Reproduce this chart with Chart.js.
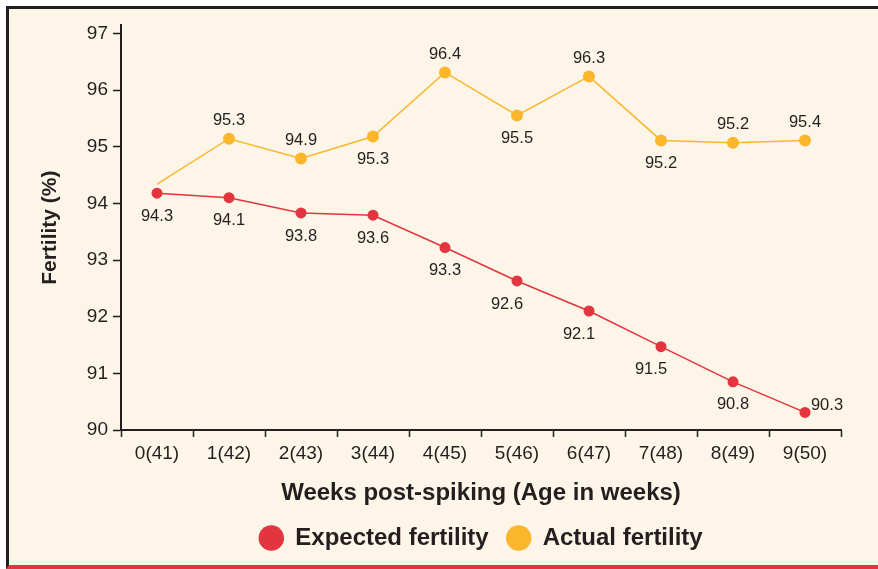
<!DOCTYPE html>
<html>
<head>
<meta charset="utf-8">
<script src="https://cdn.jsdelivr.net/npm/chart.js@4.4.1/dist/chart.umd.min.js"></script>
<style>
  html, body { margin: 0; padding: 0; background: #fff; overflow: hidden; }
  .frame {
    position: absolute; left: 6px; top: 6px; width: 900px; height: 556px;
    background: #fdf5e7;
    border-left: 3px solid #231f20; border-top: 3px solid #231f20; border-bottom: 4px solid #e2353f;
  }
  .wrap { position: relative; width: 869px; height: 556px; }
</style>
</head>
<body>
<div class="frame"><div class="wrap"><canvas id="chart"></canvas></div></div>
<script>
const weeks = ['0(41)', '1(42)', '2(43)', '3(44)', '4(45)', '5(46)', '6(47)', '7(48)', '8(49)', '9(50)'];
const expected = [94.18, 94.10, 93.83, 93.79, 93.22, 92.63, 92.10, 91.47, 90.85, 90.31];
const actual = [94.34, 95.14, 94.79, 95.18, 96.31, 95.55, 96.24, 95.11, 95.07, 95.11];
const expectedText = ['94.3', '94.1', '93.8', '93.6', '93.3', '92.6', '92.1', '91.5', '90.8', '90.3'];
const actualText = ['', '95.3', '94.9', '95.3', '96.4', '95.5', '96.3', '95.2', '95.2', '95.4'];
const yTicks = [90, 91, 92, 93, 94, 95, 96, 97];

// where each value label sits next to its point
const expectedPlace = ['below', 'below', 'below', 'below', 'below', 'belowLeft', 'belowLeft', 'belowLeft', 'below', 'right'];
const actualPlace = [null, 'above', 'above', 'below', 'above', 'below', 'above', 'below', 'above', 'above'];

const RED = '#e2353f';
const ORANGE = '#fbb72c';
const INK = '#231f20';
const FONT = "'Liberation Sans', Arial, Helvetica, sans-serif";

const offsets = {
    above: [0, -18],
    below: [0, 23],
    belowLeft: [-10, 23],
    right: [22, -7]
};

const valueLabels = {
    id: 'valueLabels',
    afterDatasetsDraw(chart) {
        const ctx = chart.ctx;
        const sets = [[expectedText, expectedPlace], [actualText, actualPlace]];
        ctx.save();
        ctx.font = '16.5px ' + FONT;
        ctx.fillStyle = INK;
        ctx.textAlign = 'center';
        ctx.textBaseline = 'middle';
        sets.forEach(([texts, places], di) => {
            chart.getDatasetMeta(di).data.forEach((pt, i) => {
                if (!places[i] || !texts[i]) return;
                const [dx, dy] = offsets[places[i]];
                ctx.fillText(texts[i], pt.x + dx, pt.y + dy);
            });
        });
        ctx.restore();
    }
};

new Chart(document.getElementById('chart'), {
    type: 'line',
    data: {
        labels: weeks,
        datasets: [
            {
                label: 'Expected fertility',
                data: expected,
                borderColor: RED,
                backgroundColor: RED,
                borderWidth: 1.5,
                pointRadius: 5.5,
                pointBorderWidth: 0,
                pointBackgroundColor: RED,
                tension: 0
            },
            {
                label: 'Actual fertility',
                data: actual,
                borderColor: ORANGE,
                backgroundColor: ORANGE,
                borderWidth: 1.5,
                pointRadius: actual.map((v, i) => i === 0 ? 0 : 6),
                pointBorderWidth: 0,
                pointBackgroundColor: ORANGE,
                tension: 0
            }
        ]
    },
    options: {
        responsive: true,
        maintainAspectRatio: false,
        animation: false,
        events: [],
        layout: { padding: { left: 0, right: 37, top: 12, bottom: 5 } },
        scales: {
            x: {
                offset: true,
                grid: { offset: true, drawOnChartArea: false, tickLength: 7, tickWidth: 1.5, tickColor: INK },
                border: { color: INK, width: 2 },
                ticks: { color: INK, padding: 5, font: { family: FONT, size: 19 } },
                title: {
                    display: true,
                    text: 'Weeks post-spiking (Age in weeks)',
                    color: INK,
                    padding: { top: 0, bottom: 0 },
                    font: { family: FONT, size: 24, weight: 'bold' }
                },
                afterFit(scale) { scale.height = 78; }
            },
            y: {
                min: 90,
                max: 97.14,
                grid: { drawOnChartArea: false, tickLength: 8, tickWidth: 1.5, tickColor: INK },
                border: { color: INK, width: 2 },
                afterBuildTicks(scale) { scale.ticks = yTicks.map(v => ({ value: v })); },
                ticks: { color: INK, padding: 5, font: { family: FONT, size: 19 } },
                title: {
                    display: true,
                    text: 'Fertility (%)',
                    color: INK,
                    padding: { top: 29, bottom: 0 },
                    font: { family: FONT, size: 21, weight: 'bold' }
                },
                afterFit(scale) { scale.width = 112; }
            }
        },
        plugins: {
            legend: {
                position: 'bottom',
                fullSize: false,
                labels: {
                    usePointStyle: true,
                    pointStyle: 'circle',
                    boxHeight: 18,
                    padding: 18,
                    color: INK,
                    font: { family: FONT, size: 24, weight: 'bold' }
                }
            },
            tooltip: { enabled: false }
        }
    },
    plugins: [valueLabels]
});
</script>
</body>
</html>
